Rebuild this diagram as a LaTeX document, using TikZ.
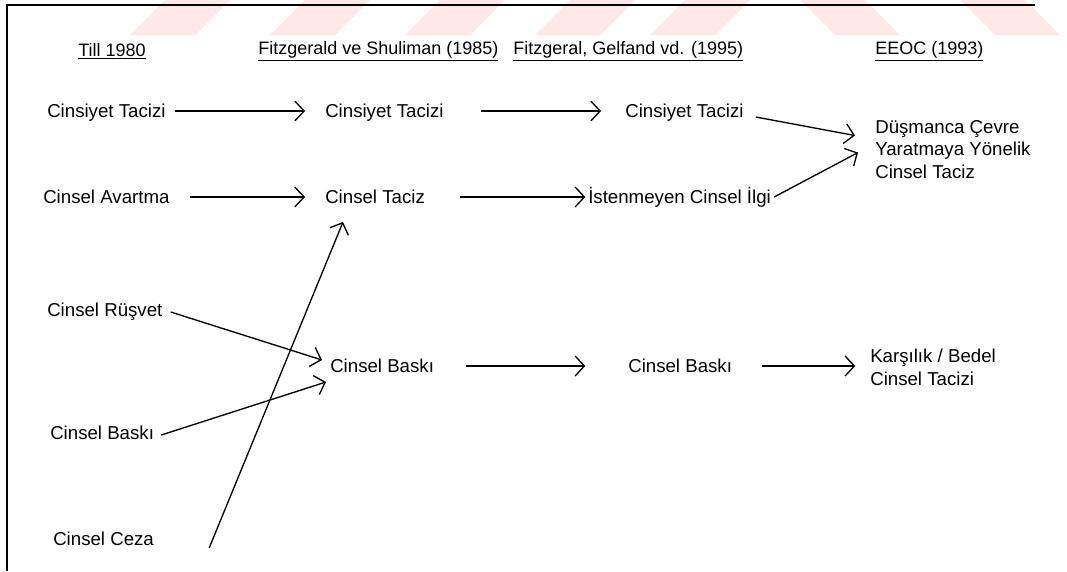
\documentclass[tikz,border=0pt]{standalone}
\usepackage{fontspec}
\setmainfont{Liberation Sans}
\usetikzlibrary{arrows.meta}
\begin{document}
\begin{tikzpicture}
[x=0.75pt,y=-0.75pt, t/.style={anchor=west,inner sep=0pt,text height=10pt,text depth=0pt,font=\fontsize{14}{17}\selectfont},
h/.style={anchor=west,inner sep=0pt,font=\fontsize{13.5}{16}\selectfont},
m/.style={anchor=north west,inner sep=0pt,align=left,font=\fontsize{14}{17}\selectfont},
a/.style={-{Straight Barb[length=7pt,width=15pt]},line width=1pt}]
\useasboundingbox (0,0) rectangle (1067,571);
% watermark
\foreach \x in {130,270,405,535,650} \fill[red!9] (\x,35)--(\x+35,0)--(\x+100,0)--(\x+65,35)--cycle;
\foreach \x in {800,960} \fill[red!9] (\x,0)--(\x+65,0)--(\x+100,35)--(\x+35,35)--cycle;
\draw[line width=1.5pt](7,571)--(7,5)--(1035,5);
% headers
\node(h1) at (78,51)[h]{\underline{Till 1980}};\node(h2) at (258,51)[h]{\underline{Fitzgerald ve Shuliman (1985)}};
\node(h3) at (513,51)[h]{\underline{Fitzgeral, Gelfand vd. (1995)}};\node(h4) at (875,51)[h]{\underline{EEOC (1993)}};
% nodes
\node(ct1) at (47,111)[t]{Cinsiyet Tacizi};\node(ct2) at (325,111)[t]{Cinsiyet Tacizi};\node(ct3) at (625,111)[t]{Cinsiyet Tacizi};
\node(dc) at (875,120)[m]{Düşmanca Çevre\\Yaratmaya Yönelik\\Cinsel Taciz};
\node(ca) at (43,197)[t]{Cinsel Avartma};\node(cz) at (325,197)[t]{Cinsel Taciz};\node(ii) at (588,197)[t]{İstenmeyen Cinsel İlgi};
\node(cr) at (47,310)[t]{Cinsel Rüşvet};\node(cb2) at (330,366)[t]{Cinsel Baskı};\node(cb3) at (628,366)[t]{Cinsel Baskı};
\node(kb) at (870,349)[m]{Karşılık / Bedel\\Cinsel Tacizi};
\node(cb1) at (50,433)[t]{Cinsel Baskı};\node(cc) at (53,539)[t]{Cinsel Ceza};
% arrows
\draw[a]([xshift=7pt]ct1.east)--([xshift=-15pt]ct2.west);\draw[a]([xshift=28pt]ct2.east)--([xshift=-18pt]ct3.west);
\draw[a]([shift={(12,6)}]ct3.east)--([shift={(-20,-14)}]dc.west);
\draw[a]([xshift=15pt]ca.east)--([xshift=-15pt]cz.west);\draw[a]([xshift=26pt]cz.east)--([xshift=-2pt]ii.west);
\draw[a]([shift={(3,0)}]ii.east)--([shift={(-17,3)}]dc.west);
\draw[a]([shift={(8,2)}]cr.east)--([shift={(-8,-6)}]cb2.west);\draw[a]([shift={(7,2)}]cb1.east)--([shift={(-4,16)}]cb2.west);
\draw[a]([shift={(55,9)}]cc.east)--([shift={(18,25)}]cz.west);
\draw[a]([xshift=24pt]cb2.east)--([xshift=-32pt]cb3.west);\draw[a]([xshift=22pt]cb3.east)--([xshift=-11pt]kb.west|-cb3.east);
\end{tikzpicture}
\end{document}
